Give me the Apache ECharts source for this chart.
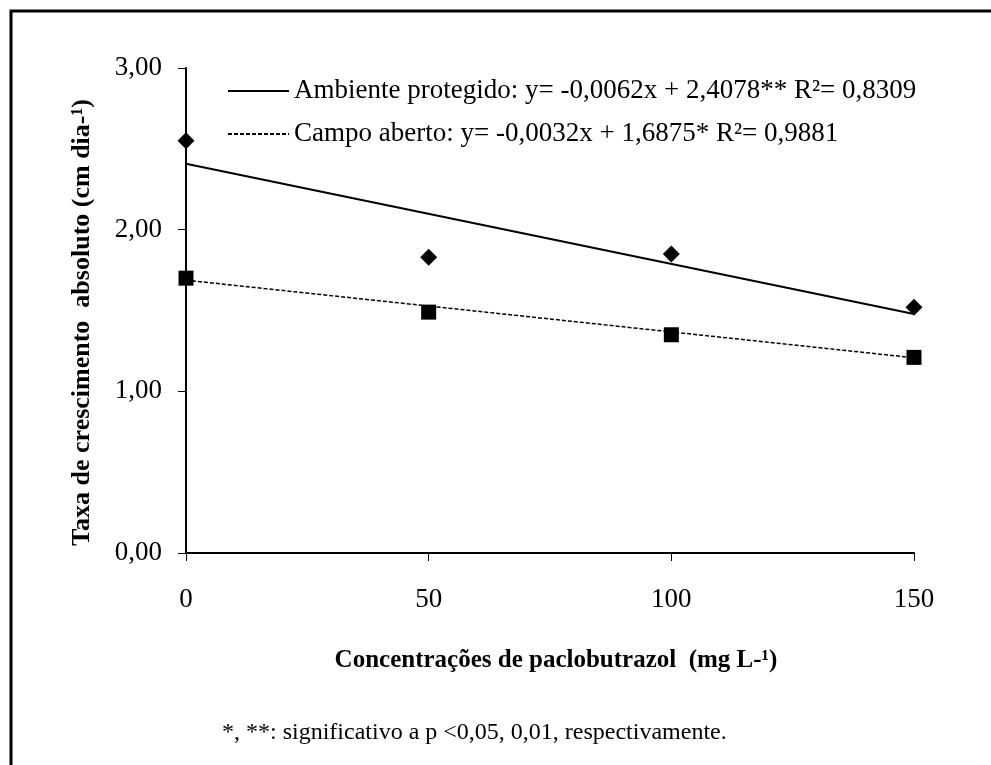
<!DOCTYPE html>
<html>
<head>
<meta charset="utf-8">
<style>
  html, body { margin: 0; padding: 0; background: #fff; }
  #chart { width: 991px; height: 765px; }
</style>
<script src="https://cdn.jsdelivr.net/npm/echarts@6/dist/echarts.min.js"></script>
</head>
<body>
<div id="chart"></div>
<script>
// Paclobutrazol concentrations (mg L-1)
const concentrations = [0, 50, 100, 150];

// Observed growth rates (cm dia-1)
const ambienteObs = [2.55, 1.83, 1.85, 1.52];
const campoObs = [1.70, 1.49, 1.35, 1.21];

// Fitted regression lines, evaluated at the ends of the range
const fitX = [0, 150];
const ambienteFit = [2.4078, 1.4778];
const campoFit = [1.6875, 1.2075];

const ambienteLabel = 'Ambiente protegido: y= -0,0062x + 2,4078** R²= 0,8309';
const campoLabel = 'Campo aberto: y= -0,0032x + 1,6875* R²= 0,9881';

const yTicks = { min: 0, max: 3, interval: 1 };

const FONT = '"Liberation Serif", "Times New Roman", serif';
const pairs = (xs, ys) => xs.map((x, i) => [x, ys[i]]);

const chart = echarts.init(document.getElementById('chart'), null, { renderer: 'canvas' });

chart.setOption({
  animation: false,
  backgroundColor: '#ffffff',
  textStyle: { fontFamily: FONT, color: '#000' },
  grid: { left: 186, right: 77, top: 68, bottom: 212, containLabel: false },
  legend: {
    data: [ambienteLabel, campoLabel],
    orient: 'vertical',
    left: 222,
    top: 72,
    itemWidth: 61,
    itemHeight: 14,
    itemGap: 15,
    // only the line sample is shown next to each equation
    itemStyle: { color: 'rgba(0,0,0,0)', borderColor: 'rgba(0,0,0,0)', borderWidth: 0 },
    textStyle: { fontFamily: FONT, fontSize: 27, color: '#000', lineHeight: 28 }
  },
  xAxis: {
    type: 'value',
    min: 0,
    max: 150,
    interval: 50,
    name: 'Concentrações de paclobutrazol  (mg L-¹)',
    nameLocation: 'middle',
    nameGap: 95,
    nameTextStyle: { fontFamily: FONT, fontSize: 25, fontWeight: 'bold', color: '#000', padding: [0, 0, 0, 12] },
    axisLine: { onZero: false, lineStyle: { color: '#000', width: 2 } },
    axisTick: { show: true, inside: false, length: 8, lineStyle: { color: '#000', width: 1 } },
    axisLabel: { margin: 33, fontFamily: FONT, fontSize: 27, color: '#000' },
    splitLine: { show: false }
  },
  yAxis: {
    type: 'value',
    min: yTicks.min,
    max: yTicks.max,
    interval: yTicks.interval,
    name: 'Taxa de crescimento  absoluto (cm dia-¹)',
    nameLocation: 'middle',
    nameGap: 91,
    nameTextStyle: { fontFamily: FONT, fontSize: 26, fontWeight: 'bold', color: '#000', padding: [0, 24, 0, 0] },
    axisLine: { show: true, lineStyle: { color: '#000', width: 2 } },
    axisTick: { show: true, inside: false, length: 8, lineStyle: { color: '#000', width: 1 } },
    axisLabel: {
      margin: 24,
      fontFamily: FONT,
      fontSize: 27,
      color: '#000',
      formatter: v => v.toFixed(2).replace('.', ',')
    },
    splitLine: { show: false }
  },
  series: [
    {
      name: ambienteLabel,
      type: 'line',
      data: pairs(fitX, ambienteFit),
      symbol: 'none',
      lineStyle: { color: '#000', width: 2, type: 'solid' },
      itemStyle: { color: '#000' },
      z: 2
    },
    {
      name: campoLabel,
      type: 'line',
      data: pairs(fitX, campoFit),
      symbol: 'none',
      lineStyle: { color: '#000', width: 1.5, type: [4, 2] },
      itemStyle: { color: '#000' },
      z: 2
    },
    {
      name: 'Ambiente protegido',
      type: 'scatter',
      data: pairs(concentrations, ambienteObs),
      symbol: 'diamond',
      symbolSize: [17, 17],
      itemStyle: { color: '#000', opacity: 1 },
      z: 3
    },
    {
      name: 'Campo aberto',
      type: 'scatter',
      data: pairs(concentrations, campoObs),
      symbol: 'rect',
      symbolSize: [15, 15],
      itemStyle: { color: '#000', opacity: 1 },
      z: 3
    }
  ],
  graphic: [
    {
      type: 'rect',
      shape: { x: 11, y: 11, width: 1000, height: 800 },
      style: { fill: 'none', stroke: '#000', lineWidth: 3 },
      silent: true
    },
    {
      type: 'text',
      left: 222,
      top: 721,
      style: {
        text: '*, **: significativo a p <0,05, 0,01, respectivamente.',
        fontFamily: FONT,
        fontSize: 24,
        fill: '#000'
      }
    }
  ]
});
</script>
</body>
</html>
